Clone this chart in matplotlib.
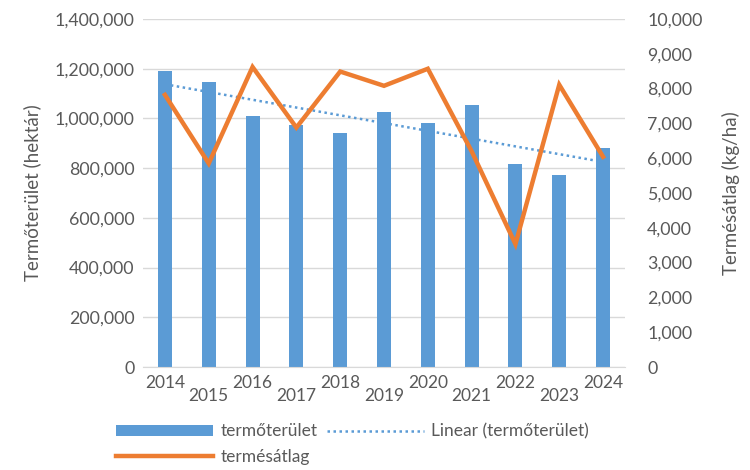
import numpy as np
import matplotlib
matplotlib.use("Agg")
import matplotlib.pyplot as plt
from matplotlib.ticker import FuncFormatter, MultipleLocator

years = ["2014", "2015", "2016", "2017", "2018", "2019", "2020", "2021", "2022", "2023", "2024"]
area_ha = [1192000, 1147000, 1011000, 974000, 940000, 1027000, 980000, 1054000, 815000, 772000, 882000]
yield_kgha = [7820, 5850, 8620, 6880, 8490, 8080, 8570, 6200, 3530, 8110, 6040]

BLUE = "#5B9BD5"
ORANGE = "#ED7D31"
GRID = "#D9D9D9"
TEXT = "#595959"

plt.rcParams['font.family'] = ['Lato', 'DejaVu Sans']
plt.rcParams['font.size'] = 12.5

fig = plt.figure(figsize=(7.5, 4.7), dpi=100)
ax = fig.add_axes([0.1907, 0.2191, 0.8333 - 0.1907, 0.9596 - 0.2191])
ax2 = ax.twinx()

x = np.arange(len(years))
bars = ax.bar(x, area_ha, width=0.32, color=BLUE, zorder=2, label="termőterület")
coef = np.polyfit(x, area_ha, 1)
trend = np.polyval(coef, x)
tline, = ax.plot(x, trend, linestyle=(0, (1, 1.4)), color=BLUE, lw=1.8, zorder=3,
                 label="Linear (termőterület)")
yline, = ax2.plot(x, yield_kgha, color=ORANGE, lw=3.2, zorder=4, label="termésátlag",
                  solid_joinstyle='miter')

ax.set_xlim(-0.5, len(years) - 0.5)
ax.set_ylim(0, 1400000)
ax2.set_ylim(0, 10000)
ax.yaxis.set_major_locator(MultipleLocator(200000))
ax2.yaxis.set_major_locator(MultipleLocator(1000))
fmt = FuncFormatter(lambda v, p: f"{int(v):,}")
ax.yaxis.set_major_formatter(fmt)
ax2.yaxis.set_major_formatter(fmt)

ax.grid(axis='y', color=GRID, lw=1.0, zorder=0)
ax.set_axisbelow(True)
ax2.set_zorder(ax.get_zorder() + 1)
ax2.patch.set_visible(False)
for a in (ax, ax2):
    for s in a.spines.values():
        s.set_visible(False)
ax.spines['bottom'].set_visible(True)
ax.spines['bottom'].set_color(GRID)

ax.set_xticks(x[::2])
ax.set_xticklabels(years[::2])
ax.set_xticks(x[1::2], minor=True)
ax.set_xticklabels(years[1::2], minor=True)
ax.tick_params(axis='x', which='major', length=0, pad=6, colors=TEXT, labelsize=12.5)
ax.tick_params(axis='x', which='minor', length=0, pad=15, colors=TEXT, labelsize=12.5)
ax.tick_params(axis='y', length=0, pad=6, colors=TEXT, labelsize=12.8)
ax2.tick_params(axis='y', length=0, pad=16, colors=TEXT, labelsize=12.8)

ax.set_ylabel("Termőterület (hektár)", color=TEXT, fontsize=13.5, labelpad=10)
ax2.set_ylabel("Termésátlag (kg/ha)", color=TEXT, fontsize=13.5, labelpad=14, rotation=90)

leg = fig.legend([bars, yline, tline], ["termőterület", "termésátlag", "Linear (termőterület)"],
                 ncol=2, loc='center left', bbox_to_anchor=(0.134, 0.055), frameon=False,
                 handlelength=5.6, handleheight=0.6, columnspacing=0.55, handletextpad=0.4,
                 labelspacing=0.55, fontsize=12.5, labelcolor=TEXT,
                 bbox_transform=fig.transFigure)

fig.savefig("out.png", dpi=100)
